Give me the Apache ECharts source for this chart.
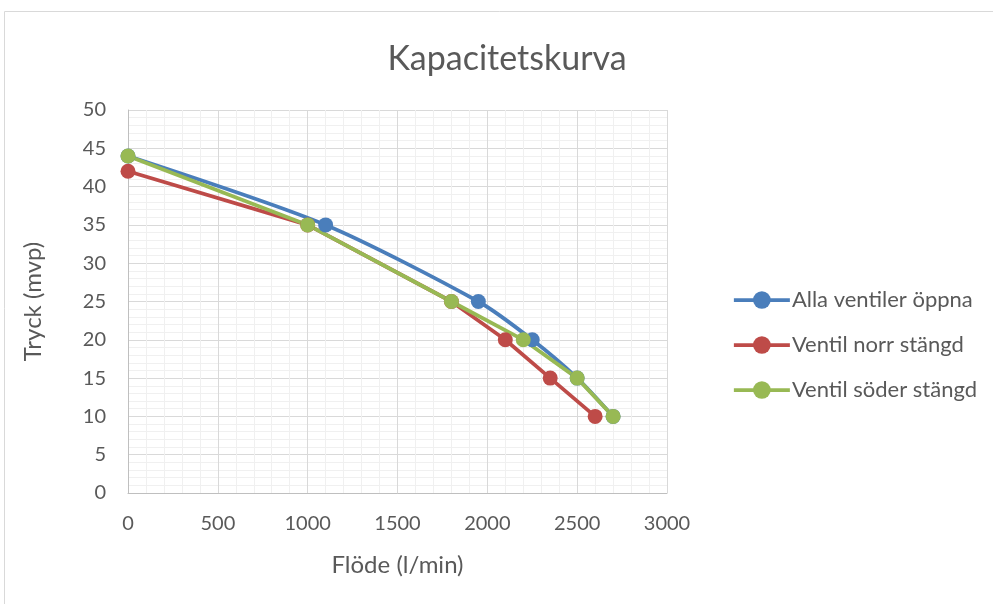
<!DOCTYPE html>
<html><head><meta charset="utf-8">
<script src="https://cdn.jsdelivr.net/npm/echarts@6/dist/echarts.min.js"></script>
<style>html,body{margin:0;padding:0;background:#fff}#c{width:993px;height:604px}</style>
</head><body><div id="c"></div>
<script>
const seriesNames = ['Alla ventiler öppna', 'Ventil norr stängd', 'Ventil söder stängd'];
const allaFlow = [0, 1100, 1950, 2250, 2500, 2700];
const allaPressure = [44, 35, 25, 20, 15, 10];
const norrFlow = [0, 1000, 1800, 2100, 2350, 2600];
const norrPressure = [42, 35, 25, 20, 15, 10];
const soderFlow = [0, 1000, 1800, 2200, 2500, 2700];
const soderPressure = [44, 35, 25, 20, 15, 10];
const colors = ['#4a7ebb', '#be4b48', '#98b954'];

const pairs = (xs, ys) => xs.map((x, i) => [x, ys[i]]);
const font = 'Lato, "Open Sans", sans-serif';
const txt = '#595959';

const chart = echarts.init(document.getElementById('c'), null, {renderer: 'canvas'});
const mk = (i, data, smooth) => ({
  name: seriesNames[i], type: 'line', data, smooth,
  symbol: 'circle', symbolSize: 15,
  lineStyle: {color: colors[i], width: 3.75},
  itemStyle: {color: colors[i]},
  emphasis: {disabled: true}
});
chart.setOption({
  animation: false,
  textStyle: {fontFamily: font},
  graphic: [{type: 'rect', shape: {x: 4.5, y: 11.5, width: 1200, height: 800},
    style: {fill: 'none', stroke: '#d9d9d9', lineWidth: 1}, silent: true}],
  title: {text: 'Kapacitetskurva', left: 502, top: 37, textAlign: 'center',
    textStyle: {fontFamily: font, fontSize: 34, fontWeight: 'normal', color: txt}},
  grid: {left: 128, top: 110, width: 539, height: 383},
  legend: {orient: 'vertical', left: 727, top: 284, itemGap: 23, itemWidth: 56, itemHeight: 22,
    lineStyle: {width: 3.75},
    textStyle: {fontFamily: font, fontSize: 22, color: txt, padding: [0, 0, 0, -3]},
    data: seriesNames},
  xAxis: {type: 'value', min: 0, max: 3000, interval: 500,
    name: 'Flöde (l/min)', nameLocation: 'middle', nameGap: 60,
    nameTextStyle: {fontFamily: font, fontSize: 24, color: txt},
    axisLine: {show: true, lineStyle: {color: '#bfbfbf', width: 1}},
    axisTick: {show: false},
    axisLabel: {fontFamily: font, fontSize: 20, color: txt, margin: 21, formatter: v => String(v)},
    splitLine: {show: true, lineStyle: {color: '#d9d9d9', width: 1}},
    minorTick: {show: false, splitNumber: 5},
    minorSplitLine: {show: true, lineStyle: {color: '#f0f0f0', width: 1}}},
  yAxis: {type: 'value', min: 0, max: 50, interval: 5,
    name: 'Tryck (mvp)', nameLocation: 'middle', nameGap: 83, nameRotate: 90,
    nameTextStyle: {fontFamily: font, fontSize: 24, color: txt},
    axisLine: {show: true, lineStyle: {color: '#bfbfbf', width: 1}},
    axisTick: {show: false},
    axisLabel: {fontFamily: font, fontSize: 20, color: txt, margin: 22},
    splitLine: {show: true, lineStyle: {color: '#d9d9d9', width: 1}},
    minorTick: {show: false, splitNumber: 5},
    minorSplitLine: {show: true, lineStyle: {color: '#f0f0f0', width: 1}}},
  series: [
    mk(0, pairs(allaFlow, allaPressure), 0.25),
    mk(1, pairs(norrFlow, norrPressure), false),
    mk(2, pairs(soderFlow, soderPressure), false)
  ]
});
</script></body></html>
